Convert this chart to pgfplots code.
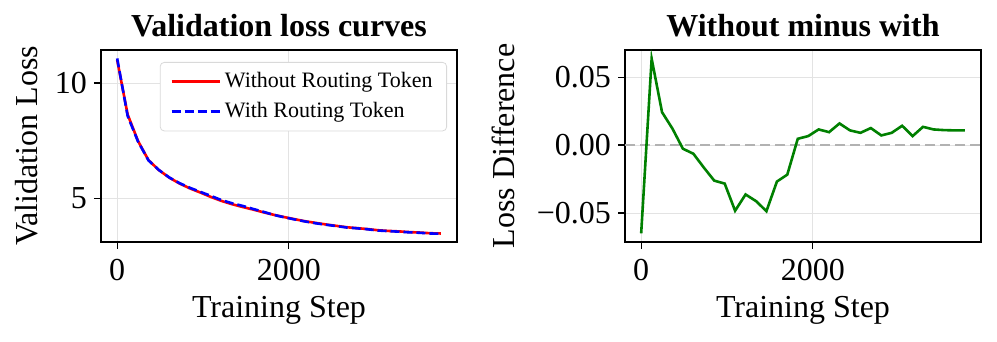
\documentclass[border=0pt]{standalone}
\usepackage{fontspec}
\setmainfont{Liberation Serif}
\usepackage{pgfplots}
\usepackage{pgfplotstable}
\pgfplotsset{compat=1.18}

\pgfplotstableread{
step without with diff
0    11.00 11.065 -0.0650
122  8.63  8.566  0.0636
243  7.48  7.456  0.0242
365  6.65  6.638  0.0120
486  6.22  6.223 -0.0027
608  5.89  5.896 -0.0064
730  5.63  5.647 -0.0166
851  5.42  5.446 -0.0262
973  5.24  5.268 -0.0284
1094 5.05  5.098 -0.0484
1216 4.88  4.916 -0.0364
1338 4.74  4.781 -0.0413
1459 4.62  4.669 -0.0487
1581 4.51  4.537 -0.0269
1702 4.39  4.412 -0.0218
1824 4.28  4.275  0.0046
1946 4.18  4.173  0.0066
2067 4.09  4.079  0.0115
2189 4.00  3.991  0.0095
2310 3.93  3.914  0.0159
2432 3.86  3.849  0.0108
2554 3.80  3.791  0.0090
2675 3.74  3.728  0.0125
2797 3.70  3.693  0.0071
2918 3.66  3.651  0.0090
3040 3.61  3.596  0.0142
3162 3.58  3.573  0.0066
3283 3.56  3.547  0.0134
3405 3.53  3.519  0.0115
3526 3.51  3.499  0.0110
3648 3.48  3.469  0.0108
3770 3.47  3.459  0.0108
}\losstab

\definecolor{mplgreen}{RGB}{0,128,0}

\pgfplotsset{
  panel/.style={
    scale only axis,
    width=178pt, height=96pt,
    axis line style={line width=0.7pt},
    tick align=outside,
    tick pos=left,
    major tick length=3.5pt,
    every tick/.style={black, line width=0.6pt},
    grid=major,
    major grid style={gray!22, line width=0.4pt},
    tick label style={font=\fontsize{16}{19}\selectfont},
    label style={font=\fontsize{16}{19}\selectfont},
    /pgf/number format/assume math mode=true,
    /pgf/number format/1000 sep={},
    scaled ticks=false,
    title style={at={(0.5,1)}, anchor=base, yshift=0.5pt, font=\bfseries\fontsize{16}{19}\selectfont},
    xlabel style={at={(axis description cs:0.5,0)}, anchor=base, yshift=-38pt},
    xticklabel style={anchor=base, yshift=-16pt},
    xmin=-188.5, xmax=3958.5,
    xtick={0,2000},
    xlabel={Training Step},
  }
}

\begin{document}
\begin{tikzpicture}
\begin{axis}[panel,
  name=left,
  title={Validation loss curves},
  ylabel={Validation Loss},
  ylabel style={at={(axis description cs:0,0.5)}, anchor=base, yshift=31.5pt},
  ymin=3.1, ymax=11.43,
  ytick={5,10},
  legend style={at={(0.972,0.9375)}, anchor=north east, draw=gray!30, rounded corners=2pt,
    font=\fontsize{11}{13}\selectfont, row sep=2pt, inner xsep=5pt, inner ysep=3pt},
  legend cell align=left,
  legend image code/.code={\draw[#1] (0pt,0pt) -- (24pt,0pt);},
]
\addplot[red, line width=1.3pt] table[x=step, y=without] {\losstab};
\addlegendentry{Without Routing Token}
\addplot[blue, line width=1.3pt, dash pattern=on 4.5pt off 2pt] table[x=step, y=with] {\losstab};
\addlegendentry{With Routing Token}
\end{axis}

\begin{axis}[panel,
  at={(262pt,0pt)},
  title={Without minus with},
  ylabel={Loss Difference},
  ylabel style={at={(axis description cs:0,0.5)}, anchor=base, yshift=55pt},
  ymin=-0.0714, ymax=0.0700,
  ytick={-0.05,0,0.05},
  yticklabels={−0.05,0.00,0.05},
]
\addplot[gray!60, line width=1.3pt, dash pattern=on 5pt off 2.5pt] coordinates {(-188.5,0) (3958.5,0)};
\addplot[mplgreen, line width=1.3pt] table[x=step, y=diff] {\losstab};
\end{axis}
\useasboundingbox (-50.5pt,-50pt) rectangle (448pt,121pt);
\end{tikzpicture}
\end{document}
